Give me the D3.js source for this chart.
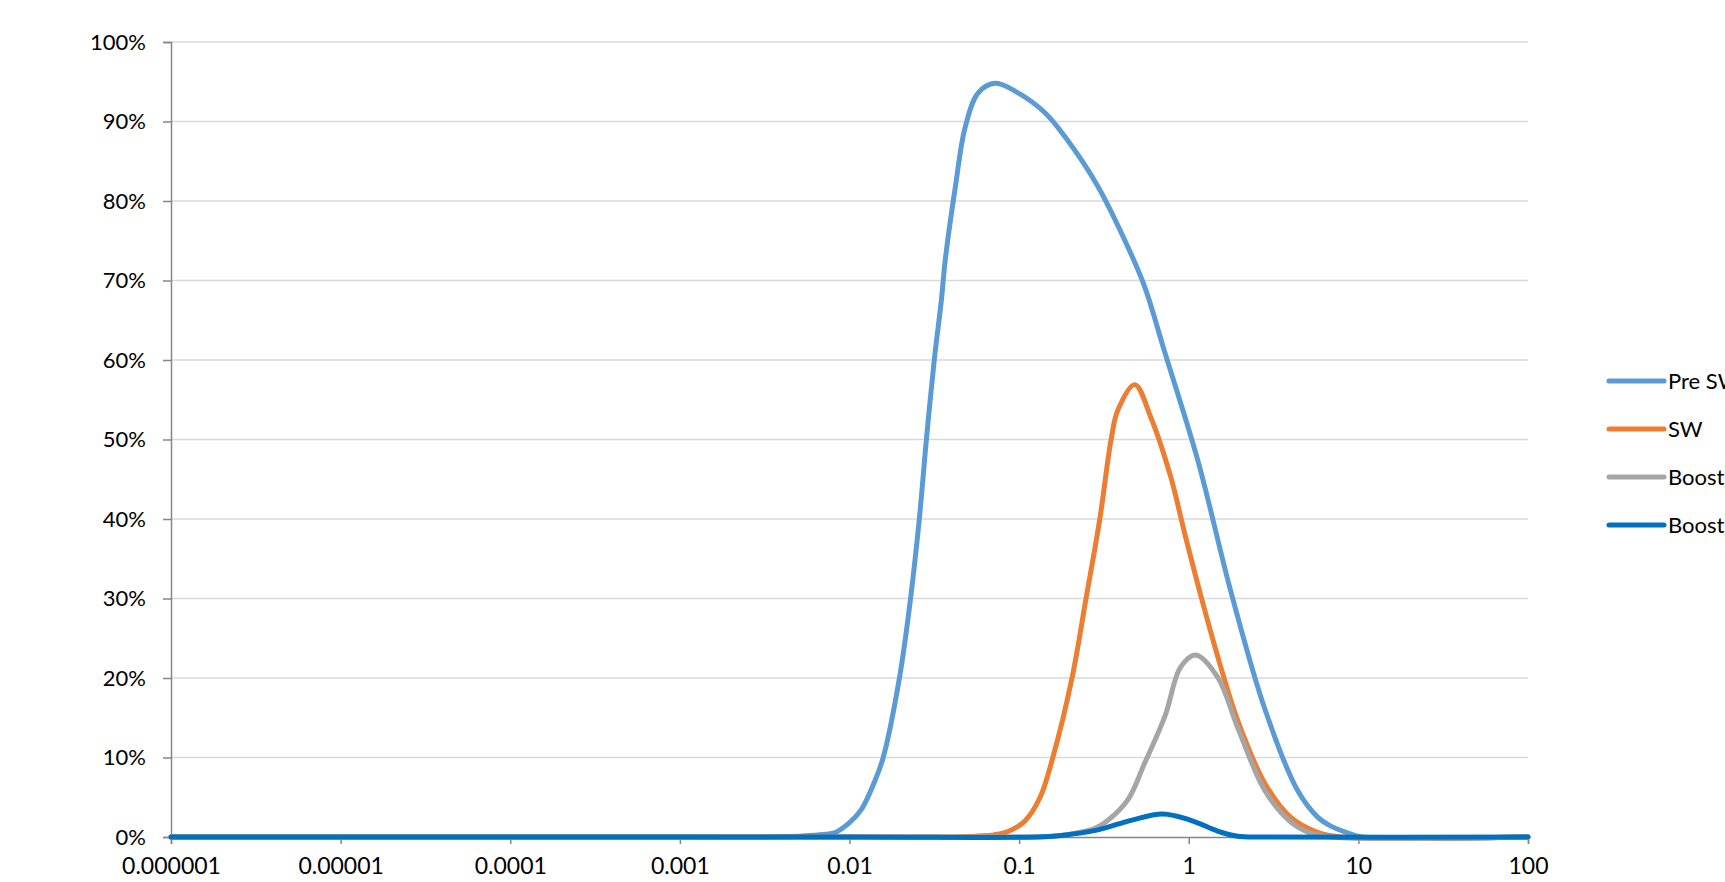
<!DOCTYPE html>
<html>
<head>
<meta charset="utf-8">
<script src="https://cdn.jsdelivr.net/npm/d3@7"></script>
<style>
  body { margin: 0; background: #fff; }
  svg { display: block; font-family: Lato, "Open Sans", sans-serif; }
</style>
</head>
<body>
<svg id="chart"></svg>
<script>
var width = 1725,
    height = 882;
var margin = {top: 42, right: 194, bottom: 45, left: 171};

// tick values for the log x axis
var xTicks = [0.000001, 0.00001, 0.0001, 0.001, 0.01, 0.1, 1, 10, 100];
var xTickLabels = ["0.000001", "0.00001", "0.0001", "0.001", "0.01", "0.1", "1", "10", "100"];
var yTicks = [0, 0.1, 0.2, 0.3, 0.4, 0.5, 0.6, 0.7, 0.8, 0.9, 1];

var seriesNames = ["Pre SW", "SW", "Boost 1", "Boost 2"];
var seriesColors = ["#5B9BD5", "#ED7D31", "#A5A5A5", "#0070C0"];

// values (percent)
var preSwX = [0.000001, 0.00001, 0.0001, 0.001, 0.0035, 0.0065, 0.0083, 0.01, 0.0117, 0.0142, 0.0158, 0.0197,
  0.0229, 0.0258, 0.0284, 0.0316, 0.0348, 0.0367, 0.0421, 0.0481, 0.0574, 0.0723, 0.0986, 0.142, 0.186, 0.292,
  0.438, 0.55, 0.724, 1.13, 1.78, 2.82, 4.37, 5.75, 6.84, 8.97, 10.5, 100];
var preSwY = [0, 0, 0, 0, 0, 0.25, 0.6, 1.8, 3.4, 7.2, 10, 20,
  30, 40, 50, 60, 67.5, 72.6, 81.8, 89.3, 93.6, 94.8, 93.6, 91.1, 88.1, 81.8,
  74.2, 69.2, 60.9, 47.4, 30.7, 16, 5.9, 2.5, 1.4, 0.4, 0, 0];

var swX = [0.000001, 0.001, 0.035, 0.055, 0.072, 0.086, 0.108, 0.133, 0.158, 0.205, 0.248, 0.299, 0.348, 0.382, 0.481,
  0.597, 0.783, 0.946, 1.24, 1.63, 1.94, 2.8, 3.98, 5.74, 8, 100];
var swY = [0, 0, 0, 0.1, 0.3, 0.7, 2, 5, 10, 20, 30, 40, 49.9, 53.7, 56.9,
  52.8, 45.3, 38.2, 28.6, 19.7, 14.7, 6.8, 2.5, 0.6, 0, 0];

var boost1X = [0.000001, 0.01, 0.1, 0.158, 0.28, 0.334, 0.438, 0.55, 0.724, 0.897, 1.1, 1.48, 1.94, 2.8, 3.98, 5.2, 7, 100];
var boost1Y = [0, 0, 0, 0.1, 1.1, 2.1, 4.7, 9.3, 15.2, 21.4, 22.9, 20.1, 13.8, 5.9, 1.9, 0.5, 0, 0];

var boost2X = [0.000001, 0.01, 0.126, 0.178, 0.292, 0.456, 0.703, 1.03, 1.48, 1.94, 2.8, 100];
var boost2Y = [0, 0, 0, 0.2, 0.9, 2.1, 2.9, 2.1, 0.75, 0.1, 0, 0];

var seriesX = [preSwX, swX, boost1X, boost2X];
var seriesY = [preSwY, swY, boost1Y, boost2Y];

var svg = d3.select("#chart")
    .attr("width", width)
    .attr("height", height);

var x = d3.scaleLog()
    .domain([0.000001, 100])
    .range([margin.left, width - margin.right - 3]);

var y = d3.scaleLinear()
    .domain([0, 1])
    .range([height - margin.bottom, margin.top]);

// gridlines
svg.append("g")
    .selectAll("line")
    .data(yTicks.slice(1))
    .enter().append("line")
    .attr("x1", x(0.000001))
    .attr("x2", x(100))
    .attr("y1", function(d) { return y(d); })
    .attr("y2", function(d) { return y(d); })
    .attr("stroke", "#D9D9D9")
    .attr("stroke-width", 1.5);

// y axis
var yAxis = svg.append("g")
    .attr("transform", "translate(" + x(0.000001) + ",0)")
    .call(d3.axisLeft(y).tickValues(yTicks).tickFormat(d3.format(".0%")).tickSize(8).tickPadding(17));
yAxis.select(".domain").attr("stroke", "#868686").attr("stroke-width", 1.5);
yAxis.selectAll(".tick line").attr("stroke", "#868686").attr("stroke-width", 1.5);
yAxis.selectAll("text").attr("font-size", 22).attr("fill", "#000").attr("font-family", "Lato");

// x axis
var xAxis = svg.append("g")
    .attr("transform", "translate(0," + y(0) + ")")
    .call(d3.axisBottom(x).tickValues(xTicks)
      .tickFormat(function(d, i) { return xTickLabels[i]; })
      .tickSize(7).tickPadding(14));
xAxis.select(".domain").attr("stroke", "#868686").attr("stroke-width", 1.5);
xAxis.selectAll(".tick line").attr("stroke", "#868686").attr("stroke-width", 1.5);
xAxis.selectAll("text").attr("font-size", 23).attr("fill", "#000").attr("font-family", "Lato");

var line = d3.line()
    .x(function(d) { return x(d[0]); })
    .y(function(d) { return y(d[1] / 100); })
    .curve(d3.curveCatmullRom.alpha(0.5));

seriesNames.forEach(function(name, i) {
    var pts = seriesX[i].map(function(v, j) { return [v, seriesY[i][j]]; });
    svg.append("path")
        .datum(pts)
        .attr("fill", "none")
        .attr("stroke", seriesColors[i])
        .attr("stroke-width", 5)
        .attr("stroke-linejoin", "round")
        .attr("stroke-linecap", "round")
        .attr("d", line);
});

// legend (runs past the right edge, as in the original)
var legend = svg.append("g")
    .attr("transform", "translate(1609,381)");
var item = legend.selectAll(".item")
    .data(seriesNames)
    .enter().append("g")
    .attr("class", "item")
    .attr("transform", function(d, i) { return "translate(0," + i * 48 + ")"; });
item.append("line")
    .attr("x1", 0).attr("x2", 55)
    .attr("stroke", function(d, i) { return seriesColors[i]; })
    .attr("stroke-width", 5)
    .attr("stroke-linecap", "round");
item.append("text")
    .attr("x", 59)
    .attr("dy", "0.35em")
    .attr("font-size", 22)
    .text(function(d) { return d; });
</script>
</body>
</html>
